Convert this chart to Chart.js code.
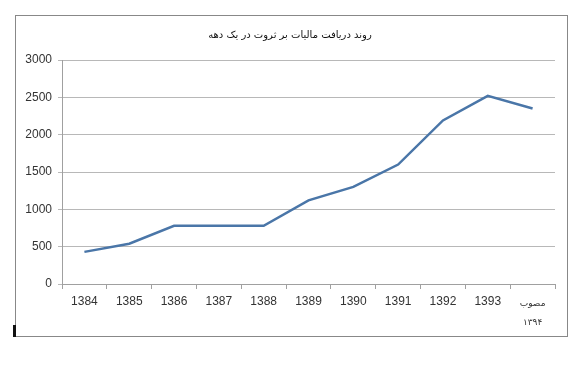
<!DOCTYPE html>
<html><head><meta charset="utf-8">
<script src="https://cdn.jsdelivr.net/npm/chart.js@4"></script>
<style>
html,body{margin:0;padding:0;background:#fff;}
#wrap{position:relative;width:588px;height:366px;}
#frame{position:absolute;left:15px;top:15px;width:551px;height:320px;border:1.5px solid #888;pointer-events:none;}
#mark{position:absolute;left:13px;top:325px;width:3px;height:12px;background:#111;}
canvas{position:absolute;left:0;top:0;}
</style></head>
<body><div id="wrap"><canvas id="c" width="588" height="366"></canvas><div id="frame"></div><div id="mark"></div></div>
<script>
const titleText = 'روند دریافت مالیات بر ثروت در یک دهه';
const categories = ['1384','1385','1386','1387','1388','1389','1390','1391','1392','1393',['مصوب','۱۳۹۴']];
const values = [430, 540, 780, 780, 780, 1120, 1300, 1600, 2190, 2520, 2350];
const yTicks = [0, 500, 1000, 1500, 2000, 2500, 3000];

const titlePlugin = {
  id: 'tp',
  afterDraw(chart) {
    const ctx = chart.ctx;
    ctx.save();
    ctx.font = '10px "DejaVu Sans"';
    ctx.fillStyle = '#111';
    ctx.textAlign = 'center';
    ctx.textBaseline = 'middle';
    ctx.direction = 'rtl';
    ctx.fillText(titleText, 290, 35);
    ctx.restore();
  }
};

new Chart(document.getElementById('c'), {
  type: 'line',
  data: { labels: categories, datasets: [{ data: values, borderColor: '#4a76a8', borderWidth: 2.5, pointRadius: 0, tension: 0, fill: false }] },
  options: {
    responsive: false, animation: false, devicePixelRatio: 1,
    layout: { padding: { left: 20, top: 60, right: 33, bottom: 0 } },
    plugins: { legend: { display: false }, tooltip: { enabled: false } },
    scales: {
      x: {
        offset: true,
        grid: { offset: true, drawOnChartArea: false, drawTicks: true, tickLength: 5, color: '#a0a0a0' },
        border: { color: '#a0a0a0' },
        ticks: {
          color: '#333', padding: 5, maxRotation: 0, autoSkip: false,
          font: (ctx) => ctx.index === 10 ? { family: '"DejaVu Sans"', size: 9, lineHeight: 2.1 } : { family: '"Liberation Sans"', size: 12 }
        },
        afterFit(s) { s.height = 82; }
      },
      y: {
        min: 0, max: 3000,
        afterBuildTicks(s) { s.ticks = yTicks.map(v => ({ value: v })); },
        grid: { color: '#b8b8b8', drawTicks: true, tickLength: 4, lineWidth: 1 },
        border: { color: '#a0a0a0' },
        ticks: { color: '#333', padding: 6, font: { family: '"Liberation Sans"', size: 12 }, callback: (v) => String(v) },
        afterFit(s) { s.width = 42; }
      }
    }
  },
  plugins: [titlePlugin]
});
</script></body></html>
